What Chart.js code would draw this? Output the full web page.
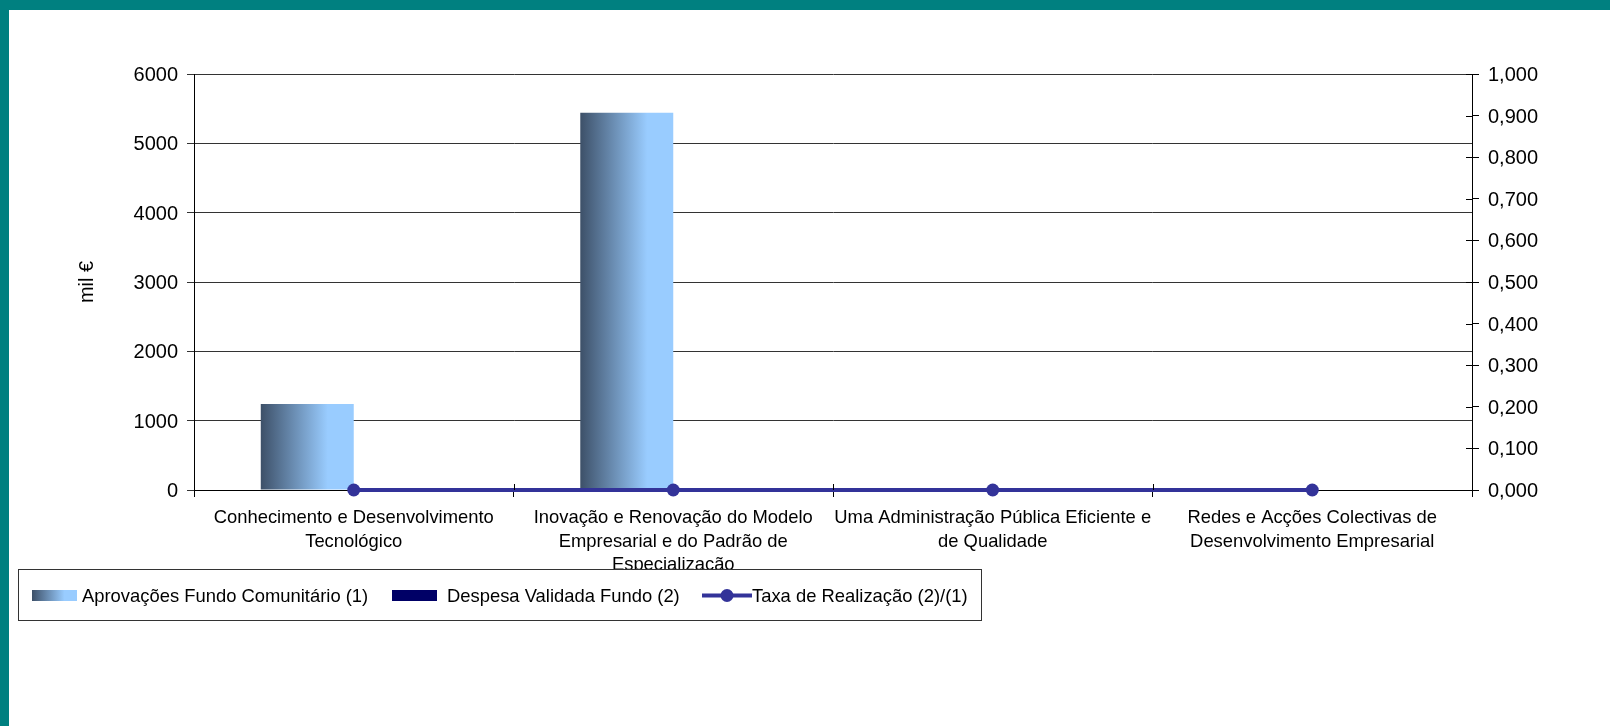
<!DOCTYPE html>
<html><head><meta charset="utf-8">
<script src="https://cdn.jsdelivr.net/npm/chart.js@4/dist/chart.umd.min.js"></script>
<style>
html,body{margin:0;padding:0;background:#fff;width:1610px;height:726px;overflow:hidden}
#wrap{position:relative;width:1610px;height:726px}
canvas{position:absolute;left:0;top:0}
.t{position:absolute;background:#008080}
</style></head><body>
<div id="wrap"><canvas id="c" width="1610" height="726" style="width:1610px;height:726px"></canvas>
<div class="t" style="left:0;top:0;width:1610px;height:10px"></div>
<div class="t" style="left:0;top:0;width:9px;height:726px"></div></div>
<script>
const categories = [
  ["Conhecimento e Desenvolvimento", "Tecnológico"],
  ["Inovação e Renovação do Modelo", "Empresarial e do Padrão de", "Especialização"],
  ["Uma Administração Pública Eficiente e", "de Qualidade"],
  ["Redes e Acções Colectivas de", "Desenvolvimento Empresarial"]
];
const aprovacoes = [1241, 5441, 0, 0];
const despesa = [0, 0, 0, 0];
const taxa = [0, 0, 0, 0];
const seriesNames = ["Aprovações Fundo Comunitário (1)", "Despesa Validada Fundo (2)", "Taxa de Realização (2)/(1)"];
const yTitle = "mil €";
const leftMin = 0, leftMax = 6000, leftStep = 1000;
const rightMin = 0, rightMax = 1, rightStep = 0.1;

const FONT = '"Liberation Sans", Arial, sans-serif';
const DARK = '#3d5068', LIGHT = '#99ccff', NAVY = '#000066', LINE = '#333399';
const CAT_PCT = 0.582;

function barGradient(ctx, x0, x1) {
  const g = ctx.createLinearGradient(x0, 0, x1, 0);
  g.addColorStop(0, DARK);
  g.addColorStop(0.72, LIGHT);
  g.addColorStop(1, LIGHT);
  return g;
}

const innerTicks = {
  id: 'innerTicks',
  afterDraw(chart) {
    const {ctx, chartArea, scales} = chart;
    ctx.save();
    ctx.strokeStyle = '#000';
    ctx.lineWidth = 1;
    ctx.beginPath();
    const xs = scales.x;
    for (let i = 0; i <= categories.length; i++) {
      const px = Math.round(xs.getPixelForValue(i - 0.5)) + 0.5;
      ctx.moveTo(px, chartArea.bottom - 6);
      ctx.lineTo(px, chartArea.bottom);
    }
    const yr = scales.yR;
    yr.ticks.forEach(t => {
      const py = Math.round(yr.getPixelForValue(t.value)) + 0.5;
      ctx.moveTo(chartArea.right - 6, py);
      ctx.lineTo(chartArea.right, py);
    });
    ctx.stroke();
    ctx.restore();
  }
};

const legendBox = {
  id: 'legendBox',
  afterDraw(chart) {
    const ctx = chart.ctx;
    ctx.save();
    ctx.fillStyle = '#fff';
    ctx.fillRect(18.5, 569.5, 963, 51);
    ctx.strokeStyle = '#333';
    ctx.lineWidth = 1;
    ctx.strokeRect(18.5, 569.5, 963, 51);
    ctx.font = '18.4px ' + FONT;
    ctx.textBaseline = 'alphabetic';
    ctx.textAlign = 'left';
    const base = 601.5;
    ctx.fillStyle = barGradient(ctx, 32, 77);
    ctx.fillRect(32, 590, 45, 11);
    ctx.fillStyle = '#000';
    ctx.fillText(seriesNames[0], 82, base);
    ctx.fillStyle = NAVY;
    ctx.fillRect(392, 590, 45, 11);
    ctx.fillStyle = '#000';
    ctx.fillText(seriesNames[1], 447, base);
    ctx.strokeStyle = LINE;
    ctx.lineWidth = 4;
    ctx.beginPath();
    ctx.moveTo(702, 595.5);
    ctx.lineTo(752, 595.5);
    ctx.stroke();
    ctx.fillStyle = LINE;
    ctx.beginPath();
    ctx.arc(727, 595.5, 6.5, 0, Math.PI * 2);
    ctx.fill();
    ctx.fillStyle = '#000';
    ctx.fillText(seriesNames[2], 752, base);
    ctx.restore();
  }
};

Chart.defaults.font.family = FONT;
Chart.defaults.color = '#000';

new Chart(document.getElementById('c'), {
  type: 'bar',
  data: {
    labels: categories,
    datasets: [
      {
        type: 'line',
        label: seriesNames[2],
        data: taxa,
        yAxisID: 'yR',
        borderColor: LINE,
        borderWidth: 4,
        backgroundColor: LINE,
        pointBackgroundColor: LINE,
        pointBorderWidth: 0,
        pointRadius: 6.5,
        tension: 0,
        clip: false,
        order: 0
      },
      {
        label: seriesNames[0],
        data: aprovacoes,
        yAxisID: 'y',
        order: 1,
        borderWidth: 0,
        categoryPercentage: CAT_PCT,
        barPercentage: 1,
        backgroundColor: (c) => {
          const chart = c.chart;
          const xs = chart.scales.x;
          if (!chart.chartArea || !xs) return LIGHT;
          const center = xs.getPixelForValue(c.dataIndex);
          const catW = xs.width / categories.length;
          const w = catW * CAT_PCT / 2;
          return barGradient(chart.ctx, center - w, center);
        }
      },
      {
        label: seriesNames[1],
        data: despesa,
        yAxisID: 'y',
        order: 1,
        borderWidth: 0,
        categoryPercentage: CAT_PCT,
        barPercentage: 1,
        backgroundColor: NAVY
      }
    ]
  },
  options: {
    responsive: false,
    devicePixelRatio: 1,
    animation: false,
    events: [],
    layout: { padding: { top: 74, left: 0, right: 0, bottom: 0 } },
    plugins: { legend: { display: false }, tooltip: { enabled: false }, title: { display: false } },
    scales: {
      x: {
        type: 'category',
        offset: true,
        grid: { display: true, drawOnChartArea: false, offset: true, tickLength: 7, color: '#000' },
        border: { display: true, color: '#000', width: 1 },
        ticks: {
          font: { size: 18.4, lineHeight: 1.27 },
          color: '#000',
          padding: 9.5,
          maxRotation: 0, minRotation: 0, autoSkip: false
        },
        afterFit(s) { s.height = 236; }
      },
      y: {
        position: 'left',
        min: leftMin, max: leftMax,
        ticks: {
          stepSize: leftStep,
          font: { size: 20 },
          color: '#000',
          padding: 9,
          labelOffset: 1.5,
          callback: v => String(v)
        },
        grid: { color: '#333', tickLength: 7, tickColor: '#333' },
        border: { display: true, color: '#000', width: 1 },
        title: { display: true, text: yTitle, font: { size: 20 }, color: '#000', padding: { top: 75, bottom: 0 } },
        afterFit(s) { s.width = 194; }
      },
      yR: {
        position: 'right',
        min: rightMin, max: rightMax,
        ticks: {
          stepSize: rightStep,
          font: { size: 20 },
          color: '#000',
          padding: 9,
          labelOffset: 1.5,
          callback: v => Number(v).toFixed(3).replace('.', ',')
        },
        grid: { drawOnChartArea: false, tickLength: 7, color: '#000' },
        border: { display: true, color: '#000', width: 1 },
        afterFit(s) { s.width = 138; }
      }
    }
  },
  plugins: [innerTicks, legendBox]
});
</script>
</body></html>
